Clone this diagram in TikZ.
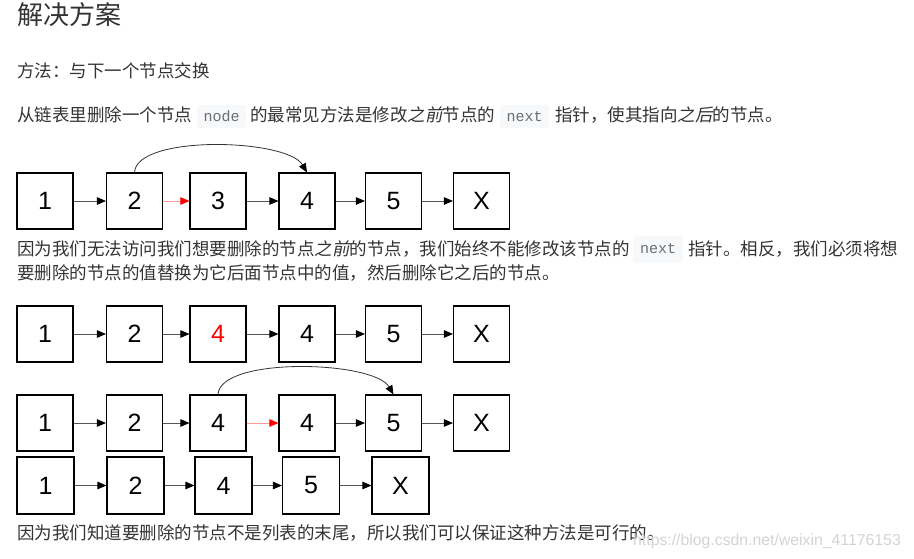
\documentclass[tikz,border=0pt]{standalone}
\usepackage{fontspec}
\setmainfont{Liberation Sans}
\newfontfamily\cjk{Noto Sans CJK SC}
\newfontfamily\cjkit{Noto Sans CJK SC}[FakeSlant=0.2]
\newfontfamily\monof{Liberation Mono}
\usetikzlibrary{arrows.meta}
\definecolor{txt}{HTML}{333333}
\definecolor{codebg}{HTML}{F6F8FA}
\definecolor{codefg}{HTML}{6A6F75}
\definecolor{lnk}{HTML}{555555}
\definecolor{redln}{HTML}{FF9A9A}
\definecolor{wm}{HTML}{D4D4D4}
\tikzset{
  body/.style={inner sep=0pt, anchor=base west, text=txt, font=\cjk\fontsize{17.5}{20}\selectfont},
  ttl/.style={inner sep=0pt, anchor=base west, text=txt, font=\cjk\fontsize{26}{30}\selectfont},
  codebox/.style={fill=codebg, rounded corners=3pt, inner sep=0pt, anchor=west,
    minimum height=23, text=codefg, font=\monof\fontsize{15}{17}\selectfont},
  nbox/.style={draw=black, line width=1.1pt, fill=white, minimum width=56, minimum height=56,
    inner sep=0pt, font=\fontsize{25}{28}\selectfont},
  nboxw/.style={nbox, minimum width=57, minimum height=57},
  lnkarr/.style={draw=lnk, line width=0.8pt, -{Triangle[length=9pt,width=7.5pt,color=black]}},
  redarr/.style={draw=redln, line width=0.8pt, -{Triangle[length=9pt,width=7.5pt,color=red]}},
  arcarr/.style={draw=black!80, line width=0.8pt, -{Triangle[length=9pt,width=7.5pt,color=black]}},
}
\begin{document}
\begin{tikzpicture}[x=1pt,y=-1pt]
\useasboundingbox (0,0) rectangle (914,558);
\fill[white] (0,0) rectangle (914,558);

% texts
\node[ttl] (title) at (17,24.6) {解决方案};
\node[body] (m1) at (17,77.5) {方法：与下一个节点交换};

\node[body] (l3a) at (17,121.5) {从链表里删除一个节点};
\node[codebox, minimum width=49] (c1) at (197,116.5) {node};
\node[body] (l3b) at (250,121.5) {的最常见方法是修改{\cjkit 之前}节点的};
\node[codebox, minimum width=49] (c2) at (500,116.5) {next};
\node[body] (l3c) at (555,121.5) {指针，使其指向{\cjkit 之后}的节点。};

\node[body] (l4a) at (17,255) {因为我们无法访问我们想要删除的节点{\cjkit 之前}的节点，我们始终不能修改该节点的};
\node[codebox, minimum width=50, minimum height=27] (c3) at (633,249) {next};
\node[body] (l4b) at (688,255) {指针。相反，我们必须将想};
\node[body] (l5) at (17,279) {要删除的节点的值替换为它后面节点中的值，然后删除它之后的节点。};

% row 1
\node[nbox] (a1) at (45,201) {1};
\node[nbox] (a2) at (134.5,201) {2};
\node[nbox] (a3) at (218,201) {3};
\node[nbox] (a4) at (307,201) {4};
\node[nbox] (a5) at (393.5,201) {5};
\node[nbox] (a6) at (481.5,201) {X};
\draw[lnkarr] (a1.east) -- (a2.west);
\draw[redarr] (a2.east) -- (a3.west);
\draw[lnkarr] (a3.east) -- (a4.west);
\draw[lnkarr] (a4.east) -- (a5.west);
\draw[lnkarr] (a5.east) -- (a6.west);
\draw[arcarr] (a2.north) .. controls +(2,-38) and +(-20,-34) .. (a4.north);

% row 2
\node[nbox] (b1) at (45,334) {1};
\node[nbox] (b2) at (134.5,334) {2};
\node[nbox, text=red] (b3) at (218,334) {4};
\node[nbox] (b4) at (307,334) {4};
\node[nbox] (b5) at (393.5,334) {5};
\node[nbox] (b6) at (481.5,334) {X};
\draw[lnkarr] (b1.east) -- (b2.west);
\draw[lnkarr] (b2.east) -- (b3.west);
\draw[lnkarr] (b3.east) -- (b4.west);
\draw[lnkarr] (b4.east) -- (b5.west);
\draw[lnkarr] (b5.east) -- (b6.west);

% row 3
\node[nbox] (d1) at (45,423) {1};
\node[nbox] (d2) at (134.5,423) {2};
\node[nbox] (d3) at (218,423) {4};
\node[nbox] (d4) at (307,423) {4};
\node[nbox] (d5) at (393.5,423) {5};
\node[nbox] (d6) at (481.5,423) {X};
\draw[lnkarr] (d1.east) -- (d2.west);
\draw[lnkarr] (d2.east) -- (d3.west);
\draw[redarr] (d3.east) -- (d4.west);
\draw[lnkarr] (d4.east) -- (d5.west);
\draw[lnkarr] (d5.east) -- (d6.west);
\draw[arcarr] (d3.north) .. controls +(2,-38) and +(-20,-34) .. (d5.north);

% row 4
\node[nboxw] (e1) at (45.5,485.5) {1};
\node[nboxw] (e2) at (135.5,485.5) {2};
\node[nboxw] (e3) at (223.5,485.5) {4};
\node[nboxw] (e4) at (311,485.5) {5};
\node[nboxw] (e5) at (400.5,485.5) {X};
\draw[lnkarr] (e1.east) -- (e2.west);
\draw[lnkarr] (e2.east) -- (e3.west);
\draw[lnkarr] (e3.east) -- (e4.west);
\draw[lnkarr] (e4.east) -- (e5.west);

% last line and watermark
\node[body] (l6) at (17,539.5) {因为我们知道要删除的节点不是列表的末尾，所以我们可以保证这种方法是可行的。};
\node[inner sep=0pt, anchor=base west, text=wm, font=\fontsize{15.8}{18}\selectfont] (wmk) at (633,545) {https://blog.csdn.net/weixin\_41176153};
\end{tikzpicture}
\end{document}
